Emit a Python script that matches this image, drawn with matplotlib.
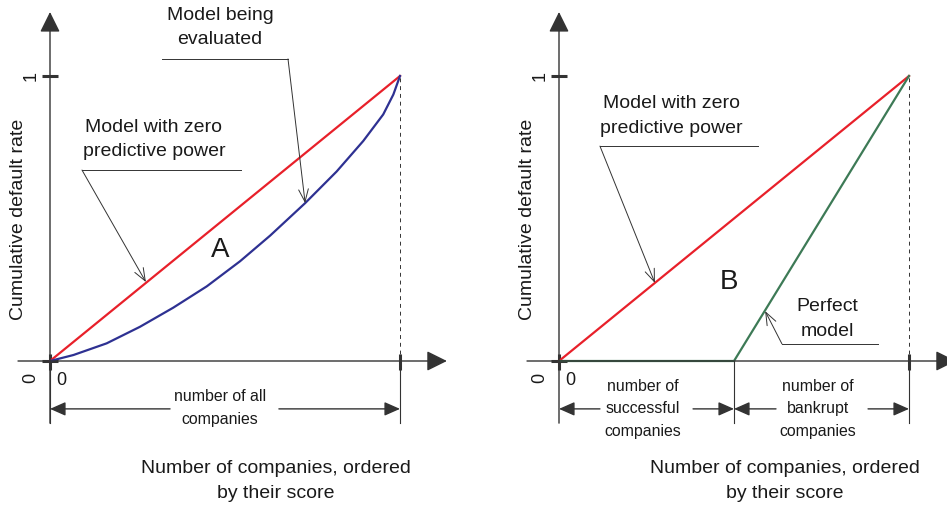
import numpy as np
import matplotlib.pyplot as plt

plt.rcParams['font.family'] = ['Liberation Sans', 'DejaVu Sans']

# data (x = share of companies, y = cumulative default rate)
random_x = [0, 1]
random_y = [0, 1]
model_x = [0, 0.067, 0.162, 0.257, 0.352, 0.448, 0.543, 0.629, 0.729,
           0.819, 0.895, 0.952, 0.981, 1]
model_y = [0, 0.021, 0.062, 0.120, 0.187, 0.262, 0.350, 0.440, 0.554,
           0.665, 0.772, 0.865, 0.935, 1]
perfect_x = [0, 0.5, 1]
perfect_y = [0, 0, 1]
tick_labels = ["0", "1"]

RED = "#e8202a"
BLUE = "#2e3192"
GREEN = "#3d7a56"
TXT = "#1a1a1a"
AX = "#333333"

fig = plt.figure(figsize=(9.47, 5.09), dpi=100)
ax1 = fig.add_axes([0, 0, 470 / 947, 1])
ax2 = fig.add_axes([470 / 947, 0, 477 / 947, 1])
ax1.set_xlim(-50 / 350, 420 / 350)
ax2.set_xlim(-89 / 350, 388 / 350)
for ax in (ax1, ax2):
    ax.set_ylim(-148 / 285, 361 / 285)
    ax.axis("off")


def arrow(ax, start, tip, style="-|>,head_length=1.25,head_width=0.62", lw=1.0, color=AX):
    ax.annotate("", xy=tip, xytext=start,
                arrowprops=dict(arrowstyle=style, lw=lw, color=color,
                                shrinkA=0, shrinkB=0), annotation_clip=False)


def leader(ax, text_xy, label, hline, tip, size=14):
    ax.text(text_xy[0], text_xy[1], label, ha="center", va="center",
            fontsize=size, color=TXT, linespacing=1.6)
    ax.plot(hline[0], hline[1], color=AX, lw=0.7)
    arrow(ax, (hline[0][0], hline[1][0]), tip,
          style="->,head_length=0.9,head_width=0.35", lw=0.7)


def dim_arrow(ax, x0, x1, gap0, gap1, y=-0.168):
    arrow(ax, (gap0, y), (x0, y), style="-|>,head_length=0.95,head_width=0.42")
    arrow(ax, (gap1, y), (x1, y), style="-|>,head_length=0.95,head_width=0.42")


def frame(ax):
    # axes with arrows
    arrow(ax, (0, -0.218), (0, 1.2246), lw=1.0)
    arrow(ax, (-0.0914, 0), (1.134, 0), lw=1.0)
    # ticks
    ax.plot([-0.023, 0.023], [0, 0], color=AX, lw=2.2, solid_capstyle="butt")
    ax.plot([-0.023, 0.023], [1, 1], color=AX, lw=2.2, solid_capstyle="butt")
    ax.plot([0, 0], [-0.03, 0.025], color=AX, lw=2.2, solid_capstyle="butt")
    ax.plot([1, 1], [-0.03, 0.025], color=AX, lw=2.2, solid_capstyle="butt")
    # x = 1 guide
    ax.plot([1, 1], [0.025, 1], color=AX, lw=0.7, ls=(0, (4, 4)))
    ax.plot([1, 1], [-0.218, -0.03], color=AX, lw=0.8)
    # tick labels
    ax.text(-0.054, 1.0, tick_labels[1], rotation=90, ha="center", va="center",
            fontsize=13, color=TXT)
    ax.text(-0.054, -0.06, tick_labels[0], rotation=90, ha="center", va="center",
            fontsize=13, color=TXT)
    ax.text(0.031, -0.07, tick_labels[0], ha="center", va="center",
            fontsize=13, color=TXT)
    ax.text(-0.0914, 0.498, "Cumulative default rate", rotation=90,
            ha="center", va="center", fontsize=14, color=TXT)
    ax.text(0.646, -0.421, "Number of companies, ordered\nby their score",
            ha="center", va="center", fontsize=14, color=TXT, linespacing=1.6)


# left panel
frame(ax1)
ax1.plot(random_x, random_y, color=RED, lw=1.6)
ax1.plot(model_x, model_y, color=BLUE, lw=1.6)
ax1.text(0.486, 0.389, "A", ha="center", va="center", fontsize=20, color=TXT)
leader(ax1, (0.486, 1.170), "Model being\nevaluated",
       ([0.68, 0.32], [1.06, 1.06]), (0.729, 0.554))
leader(ax1, (0.297, 0.777), "Model with zero\npredictive power",
       ([0.0914, 0.546], [0.670, 0.670]), (0.274, 0.277))
ax1.plot([0, 0], [-0.218, 0], color=AX, lw=0.8)
ax1.text(0.486, -0.165, "number of all\ncompanies", ha="center", va="center",
         fontsize=11.4, color=TXT, linespacing=1.65)
dim_arrow(ax1, 0, 1, 0.343, 0.654)

# right panel
frame(ax2)
ax2.plot(random_x, random_y, color=RED, lw=1.6)
ax2.plot(perfect_x, perfect_y, color=GREEN, lw=1.6)
ax2.text(0.486, 0.277, "B", ha="center", va="center", fontsize=20, color=TXT)
leader(ax2, (0.32, 0.861), "Model with zero\npredictive power",
       ([0.117, 0.569], [0.754, 0.754]), (0.274, 0.274))
leader(ax2, (0.766, 0.146), "Perfect\nmodel",
       ([0.637, 0.911], [0.06, 0.06]), (0.589, 0.175))
ax2.plot([perfect_x[1], perfect_x[1]], [-0.218, 0], color=AX, lw=0.8)
ax2.text(0.24, -0.168, "number of\nsuccessful\ncompanies", ha="center", va="center",
         fontsize=11.4, color=TXT, linespacing=1.65)
ax2.text(0.74, -0.168, "number of\nbankrupt\ncompanies", ha="center", va="center",
         fontsize=11.4, color=TXT, linespacing=1.65)
dim_arrow(ax2, 0, 0.5, 0.117, 0.383)
dim_arrow(ax2, 0.5, 1, 0.62, 0.883)

fig.savefig("out.png", dpi=100)
